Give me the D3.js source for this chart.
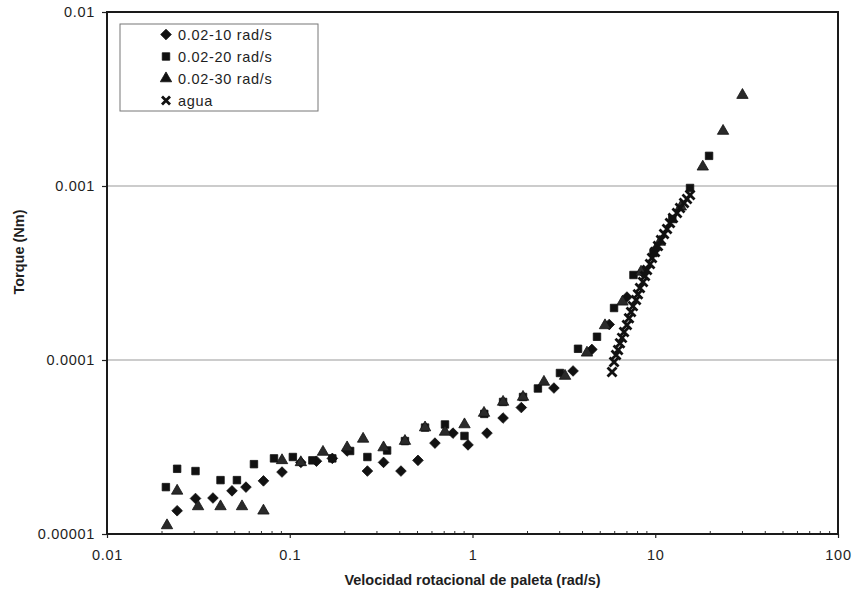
<!DOCTYPE html>
<html>
<head>
<meta charset="utf-8">
<script src="https://cdn.jsdelivr.net/npm/d3@7"></script>
<style>
  html, body { margin: 0; padding: 0; background: #fff; }
  svg { display: block; font-family: "Liberation Sans", Arial, sans-serif; }
</style>
</head>
<body>
<svg id="chart" width="856" height="590"></svg>
<script>
// Torque vs. paddle rotational speed, log-log scatter

const xTickValues = [0.01, 0.1, 1, 10, 100];
const xTickLabels = ["0.01", "0.1", "1", "10", "100"];
const yTickValues = [0.00001, 0.0001, 0.001, 0.01];
const yTickLabels = ["0.00001", "0.0001", "0.001", "0.01"];
const gridValues = [0.0001, 0.001];

const seriesNames = ["0.02-10 rad/s", "0.02-20 rad/s", "0.02-30 rad/s", "agua"];

// [speed rad/s, torque Nm]
const serie10 = [
  [0.0242, 1.36e-5], [0.0305, 1.60e-5], [0.0380, 1.61e-5], [0.0483, 1.77e-5],
  [0.0576, 1.86e-5], [0.0718, 2.02e-5], [0.0907, 2.27e-5], [0.115, 2.58e-5],
  [0.140, 2.62e-5], [0.171, 2.72e-5], [0.206, 3.0e-5], [0.266, 2.30e-5],
  [0.326, 2.58e-5], [0.406, 2.30e-5], [0.503, 2.65e-5], [0.623, 3.33e-5],
  [0.782, 3.80e-5], [0.945, 3.25e-5], [1.20, 3.80e-5], [1.47, 4.64e-5],
  [1.85, 5.33e-5], [2.79, 6.9e-5], [3.55, 8.65e-5], [4.5, 1.15e-4],
  [5.6, 1.6e-4], [7.0, 2.3e-4], [8.5, 3.2e-4], [10.0, 4.3e-4]
];

const serie20 = [
  [0.0210, 1.86e-5], [0.0242, 2.37e-5], [0.0305, 2.30e-5], [0.0418, 2.04e-5],
  [0.0514, 2.04e-5], [0.0637, 2.52e-5], [0.0820, 2.72e-5], [0.104, 2.77e-5],
  [0.133, 2.65e-5], [0.171, 2.72e-5], [0.214, 3.0e-5], [0.266, 2.77e-5],
  [0.341, 3.02e-5], [0.427, 3.42e-5], [0.550, 4.09e-5], [0.707, 4.26e-5],
  [0.904, 3.66e-5], [1.16, 4.9e-5], [1.47, 5.74e-5], [1.89, 6.13e-5],
  [2.28, 6.86e-5], [3.01, 8.42e-5], [3.78, 1.16e-4], [4.80, 1.36e-4],
  [5.95, 1.99e-4], [7.60, 3.08e-4], [9.78, 4.12e-4], [12.4, 6.46e-4],
  [15.5, 9.74e-4], [19.7, 1.49e-3]
];

const serie30 = [
  [0.0213, 1.12e-5], [0.0242, 1.77e-5], [0.0315, 1.44e-5], [0.0418, 1.44e-5],
  [0.0548, 1.44e-5], [0.0718, 1.36e-5], [0.0907, 2.65e-5], [0.115, 2.58e-5],
  [0.152, 2.96e-5], [0.206, 3.14e-5], [0.252, 3.52e-5], [0.326, 3.14e-5],
  [0.427, 3.42e-5], [0.550, 4.09e-5], [0.707, 3.86e-5], [0.904, 4.26e-5],
  [1.156, 4.96e-5], [1.47, 5.74e-5], [1.89, 6.13e-5], [2.46, 7.48e-5],
  [3.21, 8.09e-5], [4.23, 1.10e-4], [5.31, 1.58e-4], [6.62, 2.16e-4],
  [8.36, 3.21e-4], [10.6, 4.77e-4], [13.8, 7.6e-4], [18.2, 1.29e-3],
  [23.5, 2.07e-3], [30.0, 3.33e-3]
];

const serieAgua = [
  [5.80, 8.53e-5], [5.95, 9.74e-5], [6.10, 1.07e-4], [6.26, 1.14e-4],
  [6.41, 1.25e-4], [6.58, 1.34e-4], [6.75, 1.45e-4], [7.00, 1.59e-4],
  [7.18, 1.74e-4], [7.37, 1.89e-4], [7.55, 2.04e-4], [7.85, 2.21e-4],
  [8.04, 2.39e-4], [8.25, 2.59e-4], [8.57, 2.81e-4], [8.79, 3.04e-4],
  [9.02, 3.29e-4], [9.36, 3.56e-4], [9.60, 3.86e-4], [9.97, 4.18e-4],
  [10.35, 4.52e-4], [10.75, 4.90e-4], [11.17, 5.30e-4], [11.6, 5.66e-4],
  [12.04, 6.13e-4], [12.5, 6.55e-4], [13.15, 7.00e-4], [13.66, 7.47e-4],
  [14.37, 7.98e-4], [14.92, 8.42e-4], [15.5, 8.88e-4]
];

const svg = d3.select("#chart");
const plotL = 107, plotR = 838, plotT = 12, plotB = 534;

const x = d3.scaleLog().domain([0.01, 100]).range([plotL, plotR]);
const y = d3.scaleLog().domain([0.00001, 0.01]).range([plotB, plotT]);

// horizontal gridlines
svg.append("g")
  .selectAll("line")
  .data(gridValues)
  .join("line")
  .attr("x1", plotL).attr("x2", plotR)
  .attr("y1", d => y(d)).attr("y2", d => y(d))
  .attr("stroke", "#9a9a9a").attr("stroke-width", 1.2);

// x axis
const xAxis = svg.append("g")
  .attr("transform", `translate(0,${plotB})`)
  .call(d3.axisBottom(x)
    .tickValues(xTickValues)
    .tickFormat((d, i) => xTickLabels[i])
    .tickSize(4).tickPadding(12));
xAxis.select(".domain").remove();
xAxis.selectAll("text").attr("font-size", 14.5).attr("fill", "#1e1e1e")
  .attr("font-family", "Liberation Sans, Arial, sans-serif").attr("letter-spacing", "0.7px");

// minor ticks on the x axis, pointing inward
const minorX = [];
for (let dec = 0.01; dec < 99; dec *= 10) {
  for (let k = 2; k <= 9; k++) minorX.push(dec * k);
}
svg.append("g").selectAll("line")
  .data(minorX).join("line")
  .attr("x1", d => x(d)).attr("x2", d => x(d))
  .attr("y1", plotB).attr("y2", plotB - 3)
  .attr("stroke", "#333").attr("stroke-width", 1);

// y axis
const yAxis = svg.append("g")
  .attr("transform", `translate(${plotL},0)`)
  .call(d3.axisLeft(y)
    .tickValues(yTickValues)
    .tickFormat((d, i) => yTickLabels[i])
    .tickSize(5).tickPadding(7));
yAxis.select(".domain").remove();
yAxis.selectAll("text").attr("font-size", 14.5).attr("fill", "#1e1e1e")
  .attr("font-family", "Liberation Sans, Arial, sans-serif").attr("letter-spacing", "0.7px");
svg.selectAll(".tick line").attr("stroke", "#222").attr("stroke-width", 1.2);

// plot frame
svg.append("rect")
  .attr("x", plotL).attr("y", plotT)
  .attr("width", plotR - plotL).attr("height", plotB - plotT)
  .attr("fill", "none").attr("stroke", "#1a1a1a").attr("stroke-width", 2);

// marker shapes
const sym = {
  diamond: d3.symbol().type(d3.symbolDiamond2).size(72),
  square: d3.symbol().type(d3.symbolSquare).size(56),
  triangle: d3.symbol().type(d3.symbolTriangle).size(56)
};

const plot = svg.append("g");

function drawSeries(data, path, fill) {
  plot.append("g").selectAll("path")
    .data(data).join("path")
    .attr("transform", d => `translate(${x(d[0])},${y(d[1])})`)
    .attr("d", path)
    .attr("fill", fill)
    .attr("stroke", "#111").attr("stroke-width", 0.8);
}

function drawCross(g, cx, cy, r) {
  g.append("path")
    .attr("d", `M${cx - r},${cy - r}L${cx + r},${cy + r}M${cx - r},${cy + r}L${cx + r},${cy - r}`)
    .attr("stroke", "#111").attr("stroke-width", 2.8).attr("fill", "none");
}

drawSeries(serie10, sym.diamond(), "#111");
drawSeries(serie20, sym.square(), "#111");
drawSeries(serie30, sym.triangle(), "#2a2a2a");

const aguaG = plot.append("g");
serieAgua.forEach(d => drawCross(aguaG, x(d[0]), y(d[1]), 4.5));

// legend
const legend = svg.append("g");
legend.append("rect")
  .attr("x", 120).attr("y", 24).attr("width", 198).attr("height", 87)
  .attr("fill", "#fff").attr("stroke", "#777").attr("stroke-width", 1);

const legendRows = [34.5, 56.5, 78.5, 100.5];
const legendShapes = [sym.diamond(), sym.square(), sym.triangle(), null];
legendRows.forEach((ly, i) => {
  if (legendShapes[i]) {
    legend.append("path")
      .attr("transform", `translate(166,${ly})`)
      .attr("d", legendShapes[i])
      .attr("fill", "#111").attr("stroke", "#111").attr("stroke-width", 0.8);
  } else {
    drawCross(legend, 166, ly, 4);
  }
  legend.append("text")
    .attr("x", 178).attr("y", ly + 5)
    .attr("font-size", 14.5).attr("fill", "#1e1e1e").attr("letter-spacing", "0.7px")
    .text(seriesNames[i]);
});

// axis titles
svg.append("text")
  .attr("x", (plotL + plotR) / 2).attr("y", 585)
  .attr("text-anchor", "middle")
  .attr("font-size", 14.5).attr("font-weight", "bold").attr("fill", "#1e1e1e")
  .text("Velocidad rotacional de paleta (rad/s)");

svg.append("text")
  .attr("transform", "translate(24,252) rotate(-90)")
  .attr("text-anchor", "middle")
  .attr("font-size", 14.5).attr("font-weight", "bold").attr("fill", "#1e1e1e")
  .text("Torque (Nm)");
</script>
</body>
</html>
